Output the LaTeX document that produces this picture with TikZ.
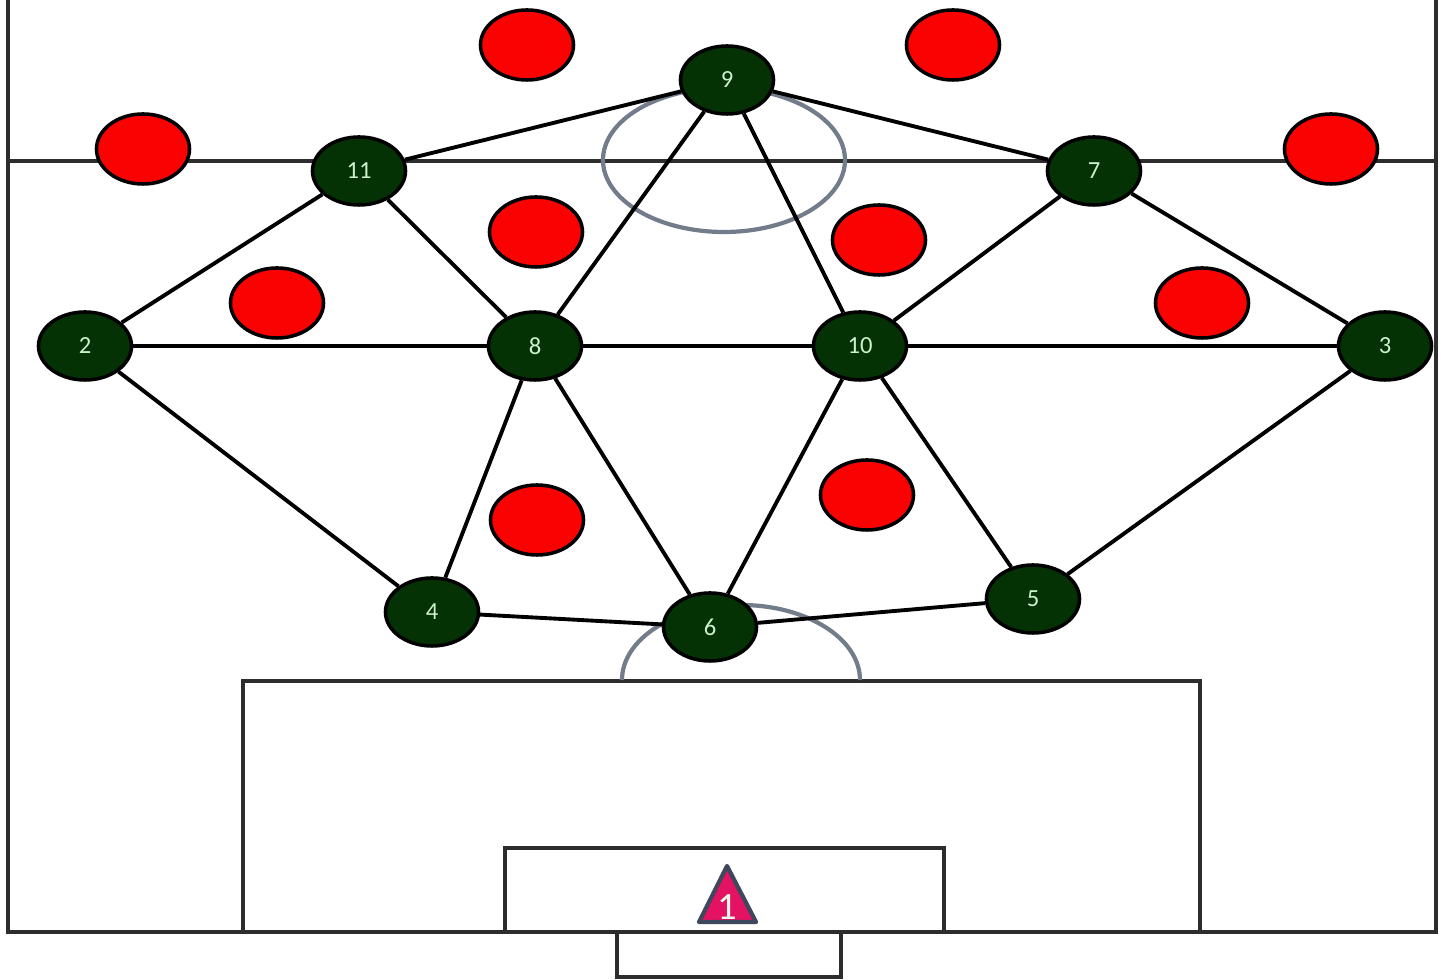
\documentclass[tikz,border=0pt]{standalone}
\usepackage{fontspec}
\setmainfont{Carlito}
\usetikzlibrary{shapes.geometric}

\definecolor{teamgreen}{RGB}{4,50,4}
\definecolor{numgreen}{RGB}{205,240,205}
\definecolor{oppred}{RGB}{250,2,2}
\definecolor{keeperpink}{RGB}{228,18,98}
\definecolor{keeperedge}{RGB}{62,72,92}
\definecolor{pitchline}{RGB}{45,45,45}
\definecolor{circleline}{RGB}{115,124,138}

\tikzset{
	player/.style={ellipse, draw=black, line width=1pt, fill=teamgreen,
		minimum width=0.93cm, minimum height=0.68cm, inner sep=0pt,
		text=numgreen, font=\fontsize{7}{8}\selectfont},
	opp/.style={ellipse, draw=black, line width=1pt, fill=oppred,
		minimum width=0.93cm, minimum height=0.70cm, inner sep=0pt},
	link/.style={black, line width=1.1pt},
	pitch/.style={pitchline, line width=1pt}
}

\begin{document}
\begin{tikzpicture}[x=0.01cm, y=-0.01cm]
	\useasboundingbox (0,0) rectangle (1441,980);

	% pitch markings
	\draw[pitch] (8,0) -- (8,932) -- (1436,932) -- (1436,0);
	\draw[pitch] (8,161) -- (1436,161);
	\draw[pitch] (243,932) -- (243,681) -- (1200,681) -- (1200,932);
	\draw[pitch] (505,932) -- (505,848) -- (944,848) -- (944,932);
	\draw[pitch] (617,932) -- (617,977) -- (841,977) -- (841,932);
	\draw[circleline, line width=1.2pt] (724,160) ellipse (121 and 72);
	\draw[circleline, line width=1.2pt] (622,680) arc (180:360:119 and 75);

	% opponents
	\node[opp] (o1) at (527,45) {};
	\node[opp] (o2) at (953,45) {};
	\node[opp] (o3) at (143,149) {};
	\node[opp] (o4) at (1331,149) {};
	\node[opp] (o5) at (536,232) {};
	\node[opp] (o6) at (879,240) {};
	\node[opp] (o7) at (277,303) {};
	\node[opp] (o8) at (1202,303) {};
	\node[opp] (o9) at (537,520) {};
	\node[opp] (o10) at (867,495) {};

	% own team
	\node[player] (p9) at (727,80) {9};
	\node[player] (p11) at (359,171) {11};
	\node[player] (p7) at (1094,171) {7};
	\node[player] (p2) at (85,346) {2};
	\node[player] (p8) at (535,346) {8};
	\node[player] (p10) at (860,346) {10};
	\node[player] (p3) at (1385,346) {3};
	\node[player] (p4) at (432,612) {4};
	\node[player] (p6) at (710,627) {6};
	\node[player] (p5) at (1033,599) {5};

	% passing lanes
	\draw[link] (p9) -- (p11);
	\draw[link] (p9) -- (p7);
	\draw[link] (p9) -- (p8);
	\draw[link] (p9) -- (p10);
	\draw[link] (p11) -- (p2);
	\draw[link] (p11) -- (p8);
	\draw[link] (p7) -- (p10);
	\draw[link] (p7) -- (p3);
	\draw[link] (p2) -- (p8);
	\draw[link] (p8) -- (p10);
	\draw[link] (p10) -- (p3);
	\draw[link] (p2) -- (p4);
	\draw[link] (p8) -- (p4);
	\draw[link] (p8) -- (p6);
	\draw[link] (p10) -- (p6);
	\draw[link] (p10) -- (p5);
	\draw[link] (p3) -- (p5);
	\draw[link] (p4) -- (p6);
	\draw[link] (p6) -- (p5);

	% goalkeeper
	\draw[keeperedge, line width=1.2pt, fill=keeperpink, line join=round]
		(699,922) -- (727,866) -- (756,922) -- cycle;
	\node[text=numgreen!40!white, font=\fontsize{11}{12}\selectfont] (p1) at (727,907) {1};
\end{tikzpicture}
\end{document}
